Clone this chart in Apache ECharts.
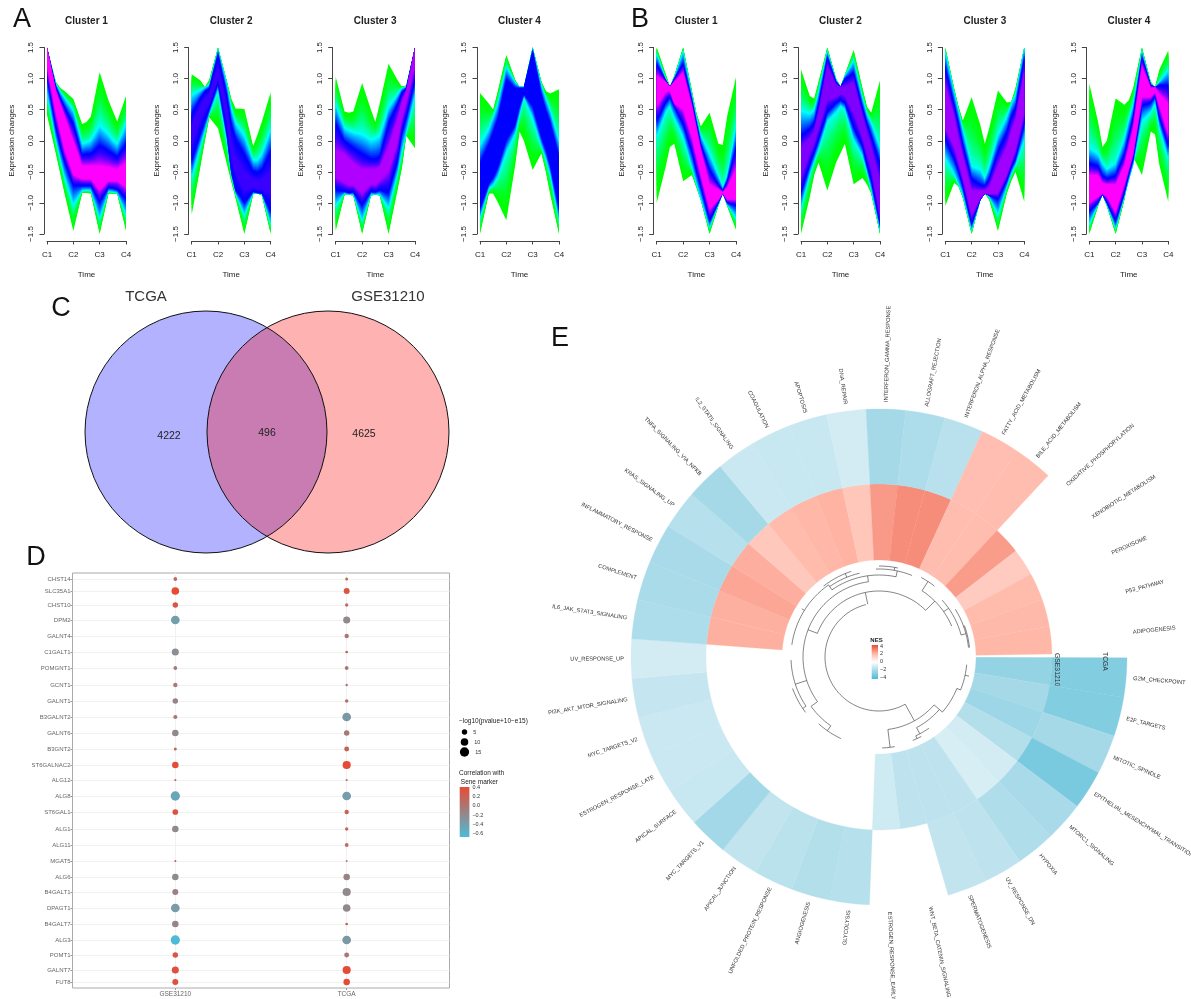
<!DOCTYPE html>
<html><head><meta charset="utf-8">
<style>html,body{margin:0;padding:0;background:#fff}#c{width:1191px;height:999px}</style>
<script src="https://cdn.jsdelivr.net/npm/echarts@6/dist/echarts.min.js"></script>
</head><body><div id="c"></div>
<script>
// ---------- Panels A / B : expression-change envelopes (rows: top green, top cyan, top blue, top core, low core, low blue, low cyan, low green)
const bandTimes = [0,1/3,2/3,1,4/3,5/3,2,7/3,8/3,3];
const bandMidTimes = [.5,1.5,2.5];
const timeLabels = ['C1','C2','C3','C4'];
const clusterNames = ['Cluster 1','Cluster 2','Cluster 3','Cluster 4'];
const bandA1 = [
 [1.5,.95,.8,.67,.27,.39,1.1,.65,.31,.72],
 [1.5,.92,.7,.5,-.04,.02,.26,.12,-.04,.28],
 [1.5,.88,.55,.28,-.22,-.2,-.06,-.15,-.25,-.04],
 [1.5,.8,.4,0,-.4,-.4,-.4,-.42,-.45,-.35],
 [1.2,.45,-.15,-.55,-.62,-.62,-.8,-.65,-.65,-.75],
 [1,.2,-.35,-.73,-.73,-.73,-1,-.76,-.79,-.95],
 [.75,0,-.6,-1.05,-.81,-.81,-1.27,-.82,-.84,-1.2],
 [.42,-.2,-.85,-1.45,-.84,-.85,-1.5,-.85,-.85,-1.45]];
const midA1 = [[.85,.3,.48],[.8,-.02,.02],[.7,-.2,-.2],[.6,-.4,-.44],[.15,-.62,-.65],[-.1,-.73,-.77],[-.3,-.8,-.83],[-.52,-.84,-.85]];
const bandA2 = [
 [1.07,.97,.98,1.5,.96,.52,.51,-.09,.31,.78],
 [.75,.82,.9,1.48,.93,.3,.1,-.3,-.2,.2],
 [.45,.7,.85,1.4,.75,.05,-.2,-.48,-.45,-.15],
 [.25,.55,.75,1.2,.55,-.25,-.5,-.62,-.62,-.5],
 [-.05,.35,.6,1,.35,-.5,-.8,-.75,-.78,-.85],
 [-.35,.1,.5,.92,.1,-.8,-1,-.82,-.85,-1.15],
 [-.6,-.1,.42,.8,0,-.85,-1.2,-.85,-.86,-1.35],
 [-1.19,-.41,.38,.2,-.37,-.92,-1.5,-.86,-.88,-1.5]];
const midA2 = [[.86,.68,.1],[.86,.55,-.3],[.8,.3,-.5],[.68,0,-.63],[.5,-.25,-.78],[.3,-.5,-.84],[.15,-.55,-.85],[0,-.65,-.85]];
const bandA3 = [
 [1.03,.47,.47,.93,.5,.6,1.24,.98,.89,1.5],
 [.6,.22,.15,.12,.03,.1,.55,.75,.87,1.5],
 [.3,0,-.1,-.2,-.28,-.25,.3,.6,.85,1.5],
 [-.15,-.2,-.35,-.45,-.45,-.42,-.1,.35,.8,1.5],
 [-.6,-.68,-.72,-.85,-.7,-.65,-.5,-.05,.6,1.2],
 [-.8,-.82,-.83,-1.05,-.82,-.8,-.85,-.35,.35,.95],
 [-1.05,-.85,-.87,-1.3,-.87,-.87,-1.1,-.55,.1,.72],
 [-1.45,-.87,-.88,-1.5,-.88,-.88,-1.5,-.8,.08,-.12]];
const midA3 = [[.45,.3,.87],[.18,.05,.85],[-.05,-.28,.78],[-.28,-.45,.62],[-.72,-.72,.35],[-.84,-.83,.1],[-.87,-.87,-.2],[-.87,-.87,-.45]];
const bandA4 = [
 [.77,.6,.78,1.38,.98,.87,1.5,.95,.76,.83],
 [-.05,.2,.6,1.2,.95,.87,1.5,.9,.5,0],
 [-.35,-.05,.35,1,.85,.85,1.45,.75,.3,-.25],
 [-.6,-.25,.2,.8,.75,.85,1.3,.6,.1,-.5],
 [-.9,-.55,-.2,.3,.45,.8,.8,.25,-.25,-.9],
 [-1.1,-.7,-.45,0,.25,.75,.55,.05,-.4,-1.1],
 [-1.25,-.78,-.6,-.2,.1,.7,.35,-.1,-.55,-1.3],
 [-1.5,-.85,-.98,-1.28,-.4,0,-.47,-.2,-.86,-1.5]];
const midA4 = [[.5,.87,.8],[.4,.87,.7],[.15,.85,.5],[-.05,.82,.35],[-.4,.7,0],[-.6,.55,-.15],[-.72,.4,-.3],[-.85,.15,-.5]];
const bandB1 = [
 [1.5,1.08,1.05,1.5,.8,.23,.45,-.05,.4,1.02],
 [1.4,1,1.02,1.45,.75,.1,-.2,-.55,-.55,.25],
 [1.25,.98,1,1.25,.65,-.05,-.45,-.7,-.65,-.1],
 [1.05,.95,.95,1.1,.55,-.15,-.7,-.78,-.75,-.45],
 [.55,.78,.6,.5,.05,-.55,-1.1,-.95,-.95,-.95],
 [.3,.6,.55,.25,-.2,-.75,-1.3,-1,-1,-1.05],
 [.05,.45,.35,.05,-.45,-.95,-1.4,-1.03,-1.03,-1.25],
 [-1,-.43,-.05,-.65,-.55,-.95,-1.5,-1.05,-1.05,-1.43]];
const midB1 = [[.87,.45,-.07],[.87,.4,-.75],[.87,.3,-.8],[.87,.2,-.83],[.8,-.25,-.85],[.7,-.5,-.85],[.55,-.7,-.85],[-.1,-.75,-.85]];
const bandB2 = [
 [1.15,.72,.95,1.5,1,1.06,1.46,.85,.45,.97],
 [.5,.45,.8,1.45,.98,1.05,1.3,.7,.3,-.1],
 [.1,.2,.6,1.35,.95,1,1.1,.55,.1,-.35],
 [-.1,.05,.45,1.2,.9,.87,.95,.4,-.1,-.65],
 [-.6,-.2,.2,.65,.7,.72,.45,.05,-.45,-1.2],
 [-.85,-.4,0,.45,.6,.6,.2,-.1,-.65,-1.35],
 [-1.1,-.55,-.15,.3,.45,.5,0,-.25,-.8,-1.45],
 [-1.5,-.9,-.35,-.8,-.35,-.05,-.7,-.6,-.85,-1.5]];
const midB2 = [[.68,.87,.55],[.5,.87,.45],[.3,.87,.3],[.15,.87,.15],[-.05,.75,-.2],[-.2,.65,-.4],[-.35,.55,-.5],[-.55,-.2,-.7]];
const bandB3 = [
 [1.5,.85,.32,.7,.25,.2,.81,.62,.85,1.5],
 [1.45,.8,.2,-.4,-.45,-.4,.1,.4,.75,1.5],
 [1.2,.6,-.05,-.6,-.7,-.6,-.15,.15,.55,1.35],
 [.9,.4,-.25,-.8,-.8,-.75,-.4,-.1,.35,1.1],
 [.2,-.1,-.6,-1.2,-.92,-.86,-.85,-.55,-.15,.45],
 [0,-.3,-.75,-1.35,-.95,-.88,-.95,-.65,-.3,.25],
 [-.3,-.55,-.88,-1.45,-.95,-.9,-1.2,-.75,-.4,0],
 [-1.05,-.68,-.92,-1.5,-.95,-.95,-1.45,-.85,-.5,-.98]];
const midB3 = [[.55,-.05,.62],[.5,-.6,.6],[.3,-.72,.4],[.05,-.8,.15],[-.35,-.85,-.35],[-.5,-.85,-.45],[-.72,-.85,-.55],[-.73,-.85,-.65]];
const bandB4 = [
 [.92,.3,0,.68,.58,.85,1.5,.95,1.15,1.45],
 [-.1,-.2,-.45,-.35,.05,.6,1.45,.92,.95,1.15],
 [-.35,-.4,-.6,-.55,-.2,.4,1.35,.9,.9,.9],
 [-.55,-.55,-.7,-.7,-.4,.2,1.2,.85,.75,.6],
 [-1,-.9,-.9,-1.15,-.7,-.2,.7,.7,.55,.1],
 [-1.15,-1,-1,-1.3,-.85,-.3,.55,.6,.35,-.1],
 [-1.35,-1.03,-1.03,-1.42,-.9,-.4,.3,.45,.2,-.3],
 [-1.5,-1.05,-1.05,-1.5,-.95,-.26,-.55,.15,-.4,-.98]];
const midB4 = [[-.1,.65,.86],[-.35,.35,.86],[-.55,.1,.86],[-.68,-.1,.86],[-.85,-.45,.78],[-.87,-.55,.72],[-.87,-.65,.6],[-.87,-.55,.1]];
// ---------- Panel C
const vennSets = ['TCGA','GSE31210'];
const vennCounts = [4222,496,4625];
// ---------- Panel D
const geneNames = ['CHST14','SLC35A1','CHST10','DPM2','GALNT4','C1GALT1','POMGNT1','GCNT1','GALNT1','B3GALNT2','GALNT6','B3GNT2','ST6GALNAC2','ALG12','ALG8','ST6GAL1','ALG1','ALG11','MGAT5','ALG6','B4GALT1','DPAGT1','B4GALT7','ALG3','POMT1','GALNT7','FUT8'];
const geneRowDepth = [6,18,32,47,63,79,95,112,128,144,160,176,192,207,223,239,256,272,288,304,319,335,351,367,382,397,409];
const cohortNames = ['GSE31210','TCGA'];
const gsePval = [2.5,10.1,5.2,13.2,null,8.7,2.5,3.3,5.2,3,7.4,1.6,7.4,.8,14.9,5.6,7.4,null,.8,7.4,6.2,13.2,7.4,14.9,5.2,8.7,6.2];
const tcgaPval = [1.6,6.2,1.9,8.7,3.3,1.3,2.5,1,2.2,13.2,5.2,4.2,11.6,.8,13.2,3.3,1.9,2.5,.6,7.4,11.6,10.1,1.3,13.2,4.2,11.6,7.4];
const gseCor = [.1,.4,.28,-.35,null,-.2,0,-.02,-.1,0,-.15,.15,.4,.2,-.42,.33,-.15,null,.2,-.17,-.08,-.32,-.12,-.6,.3,.33,.33];
const tcgaCor = [.1,.3,.1,-.15,0,.2,0,.1,.05,-.3,-.02,.2,.4,.1,-.33,.2,.2,.1,.1,-.1,-.15,-.15,.15,-.3,0,.38,.4];
const sizeLegend = [5,10,15];
const corTicks = [.4,.2,0,-.2,-.4,-.6];
// ---------- Panel E
const setNames = ['G2M_CHECKPOINT','E2F_TARGETS','MITOTIC_SPINDLE','EPITHELIAL_MESENCHYMAL_TRANSITION','MTORC1_SIGNALING','HYPOXIA','UV_RESPONSE_DN','SPERMATOGENESIS','WNT_BETA_CATENIN_SIGNALING','ESTROGEN_RESPONSE_EARLY','GLYCOLYSIS','ANGIOGENESIS','UNFOLDED_PROTEIN_RESPONSE','APICAL_JUNCTION','MYC_TARGETS_V1','APICAL_SURFACE','ESTROGEN_RESPONSE_LATE','MYC_TARGETS_V2','PI3K_AKT_MTOR_SIGNALING','UV_RESPONSE_UP','IL6_JAK_STAT3_SIGNALING','COMPLEMENT','INFLAMMATORY_RESPONSE','KRAS_SIGNALING_UP','TNFA_SIGNALING_VIA_NFKB','IL2_STAT5_SIGNALING','COAGULATION','APOPTOSIS','DNA_REPAIR','INTERFERON_GAMMA_RESPONSE','ALLOGRAFT_REJECTION','INTERFERON_ALPHA_RESPONSE','FATTY_ACID_METABOLISM','BILE_ACID_METABOLISM','OXIDATIVE_PHOSPHORYLATION','XENOBIOTIC_METABOLISM','PEROXISOME','P53_PATHWAY','ADIPOGENESIS'];
const tcgaNes = [-2.8,-2.8,-2,-3,-1.95,-1.8,-1.45,-1.4,null,null,-1.65,-1.7,-1.55,-1.4,-2.1,-1.25,-1.2,-1.2,-1.3,-1,-1.85,-1.9,-1.95,-1.65,-2,-1.2,-1.25,-1.25,-1,-2,-1.85,-1.6,1.7,1.75,null,null,null,null,null];
const gseNes = [-2.4,-2,-2.2,-1.7,-1,-.9,-1.45,-1.45,-1.45,-1.1,null,null,null,null,null,null,null,null,null,null,2.05,2.05,2.25,2.1,1.45,1.8,1.9,2,1.5,2.5,2.75,2.75,1.75,1.75,2.45,1.4,1.8,1.85,1.9];
const nesTicks = [4,2,0,-2,-4];
const dendroArcs = [[54,61,256],[73,41,83],[91,80,88],[80,41,62],[84,22,41],[88,5,22],[87,55,65],[90,62,68],[66,201,315],[79,303,337],[90,298,308],[85,318,345],[90,328,354],[91,340,354],[76,144,262],[88,146,178],[92,143,160],[84,125,144],[90,115,132],[82,235,282],[88,268,292],[91,270,282],[88,188,235],[86,235,257],[90,232,252]];
const dendroRadials = [[61,54,73],[83,73,91],[41,73,84],[62,80,87],[65,87,90],[22,84,88],[12,88,92],[258,54,66],[315,66,79],[303,79,90],[325,79,85],[345,85,90],[340,90,91],[201,66,76],[144,76,84],[162,76,88],[146,88,92],[125,84,90],[262,76,82],[282,82,88],[280,88,91],[235,82,88],[248,86,90],[212,88,91]];

// ---------- helpers
const FONT = '"Liberation Sans", Arial, sans-serif';
const hex = c => [1,3,5].map(i=>parseInt(c.substr(i,2),16));
const mix = (a,b,t) => { const A=hex(a),B=hex(b); return 'rgb('+A.map((v,i)=>Math.round(v+(B[i]-v)*t)).join(',')+')'; };
const corColor = v => mix('#4DBBD5','#E64B35',Math.min(1,Math.max(0,(v+.6)/1)));
const pointSize = p => 2.4*Math.sqrt(p);
function nesColor(v){
  const a=Math.abs(v)/2;
  if(v>=0) return a<=1? mix('#ffffff','#ffb3a3',a): mix('#ffb3a3','#e64b35',Math.min(1,a-1));
  return a<=1? mix('#ffffff','#a6d9e8',a): mix('#a6d9e8','#4dbbd5',Math.min(1,a-1));
}
const grids=[],xAxes=[],yAxes=[],series=[];
function addGrid(g,x,y){ grids.push(g); xAxes.push(Object.assign({gridIndex:grids.length-1},x)); yAxes.push(Object.assign({gridIndex:grids.length-1},y)); return grids.length-1; }
const hiddenAxis = (min,max,extra) => Object.assign({type:'value',min,max,show:false},extra||{});

// ---------- bands
const bandColor = (s,core) => {
  if(s<=1){ const t=Math.pow(s,1.8); return 'rgb(0,255,'+Math.round(255*t)+')'; }
  if(s<=2){ const t=s-1; return 'rgb(0,'+Math.round(255*(1-t))+',255)'; }
  return mix('#0000ff',core,Math.pow(s-2,1.5));
};
const bandLevels = []; for(let i=0;i<=36;i++) bandLevels.push([i/12]);
const allTimes = bandTimes.concat(bandMidTimes).slice().sort((a,b)=>a-b);
const timeOrder = bandTimes.concat(bandMidTimes).map((t,i)=>[t,i]).sort((a,b)=>a[0]-b[0]).map(d=>d[1]);
const mergeBand = (rows,mids) => rows.map((r,i)=>{ const all=r.concat(mids[i]); return timeOrder.map(k=>all[k]); });
function bandCurve(rows,s,low){
  const k=Math.min(2,Math.floor(s)),t=s-k;
  const a=low?rows[7-k]:rows[k],b=low?rows[6-k]:rows[k+1];
  return a.map((v,i)=>v+(b[i]-v)*t);
}
const linePanels = [
 {rows:mergeBand(bandA1,midA1),left:47,width:79,core:'#ff00ff'},{rows:mergeBand(bandA2,midA2),left:191.7,width:79,core:'#3a00ff'},
 {rows:mergeBand(bandA3,midA3),left:335.7,width:79.3,core:'#b000ff'},{rows:mergeBand(bandA4,midA4),left:480,width:79,core:'#0000ff'},
 {rows:mergeBand(bandB1,midB1),left:656.7,width:79.3,core:'#ff00ff'},{rows:mergeBand(bandB2,midB2),left:801,width:79,core:'#8000ff'},
 {rows:mergeBand(bandB3,midB3),left:945.3,width:79,core:'#a000ff'},{rows:mergeBand(bandB4,midB4),left:1089.3,width:79,core:'#ff00ff'}];
linePanels.forEach((p,pi)=>{
  const gi=addGrid({left:p.left,top:47.5,width:p.width,height:186.5},
   {type:'value',min:0,max:3,interval:1,offset:7,position:'bottom',splitLine:{show:false},
    axisLine:{onZero:false,lineStyle:{color:'#444',width:1}},axisTick:{length:3.5,lineStyle:{color:'#444'}},
    axisLabel:{formatter:v=>timeLabels[v],fontFamily:FONT,fontSize:8,color:'#222',margin:10,hideOverlap:false},
    name:'Time',nameLocation:'middle',nameGap:30,nameTextStyle:{fontFamily:FONT,fontSize:8,color:'#222'}},
   {type:'value',min:-1.5,max:1.5,interval:.5,offset:3,splitLine:{show:false},
    axisLine:{onZero:false,lineStyle:{color:'#444',width:1}},axisTick:{length:4.5,lineStyle:{color:'#444'}},
    axisLabel:{rotate:90,formatter:v=>v.toFixed(1).replace('-','\u2212'),fontFamily:FONT,fontSize:8,color:'#222',margin:9,hideOverlap:false},
    name:'Expression changes',nameLocation:'middle',nameGap:28,nameTextStyle:{fontFamily:FONT,fontSize:8,color:'#222'}});
  series.push({type:'custom',xAxisIndex:gi,yAxisIndex:gi,silent:true,animation:false,clip:false,data:bandLevels,
    renderItem:(params,api)=>{
      const s=api.value(0);
      const up=bandCurve(p.rows,s,false),lo=bandCurve(p.rows,s,true);
      const pts=allTimes.map((t,i)=>api.coord([t,up[i]])).concat(allTimes.map((t,i)=>api.coord([t,lo[i]])).reverse());
      return {type:'polygon',shape:{points:pts},style:{fill:bandColor(s,p.core)}};
    }});
});

// ---------- overlay grid (page-unit scale) for Venn and annotations
const ov=addGrid({left:0,top:0,width:1191,height:999},hiddenAxis(0,1191),hiddenAxis(0,999,{inverse:true}));
const vennCircles=[[206,432,121,'rgba(0,0,255,0.3)'],[328,432,121,'rgba(255,0,0,0.3)']];
series.push({type:'custom',xAxisIndex:ov,yAxisIndex:ov,silent:true,animation:false,clip:false,data:vennCircles.map((c,i)=>[i]),
  renderItem:(params,api)=>{
    const c=vennCircles[api.value(0)],o=api.coord([c[0],c[1]]);
    return {type:'circle',shape:{cx:o[0],cy:o[1],r:c[2]},style:{fill:c[3]}};
  }});
series.push({type:'custom',xAxisIndex:ov,yAxisIndex:ov,silent:true,animation:false,clip:false,data:vennCircles.map((c,i)=>[i]),
  renderItem:(params,api)=>{
    const c=vennCircles[api.value(0)],o=api.coord([c[0],c[1]]);
    return {type:'circle',shape:{cx:o[0],cy:o[1],r:c[2]},style:{fill:'none',stroke:'#111',lineWidth:1}};
  }});
const notes=[
 ['A',22,20,27],['B',640,20,27],['C',61,309,27],['D',36,558,27],['E',560,339,27],
 [vennSets[0],146,297,15,'#333'],[vennSets[1],388,297,15,'#333'],
 [String(vennCounts[0]),169,436,10.5,'#222'],[String(vennCounts[1]),267,433,10.5,'#222'],[String(vennCounts[2]),364,434,10.5,'#222'],
 ['\u2212log10(pvalue+10\u2212e15)',459,721,6.5,'#222','left'],['Correlation with',459,773,6.5,'#222','left'],[' Sene marker',459,782,6.5,'#222','left'],
 ['NES',876.5,640,6,'#222','center','bold'],
 ['GSE31210',1057,653,6.8,'#333','left','normal',-Math.PI/2],['TCGA',1105,652,6.8,'#333','left','normal',-Math.PI/2]];
[47,191.7,335.7,480,656.7,801,945.3,1089.3].forEach((l,i)=>notes.push([clusterNames[i%4],l+39.5,21,10,'#222','center','bold']));
series.push({type:'custom',xAxisIndex:ov,yAxisIndex:ov,silent:true,animation:false,clip:false,z:20,data:notes.map((n,i)=>[i]),
  renderItem:(params,api)=>{
    const n=notes[api.value(0)],o=api.coord([n[1],n[2]]);
    return {type:'text',x:o[0],y:o[1],rotation:n[7]||0,style:{text:n[0],x:0,y:0,fontFamily:FONT,fontSize:n[3],fill:n[4]||'#111',align:n[5]||'center',verticalAlign:'middle',fontWeight:n[6]||'normal'}};
  }});

// ---------- Panel D
const dg=addGrid({left:72.5,top:573,width:377,height:415,show:true,borderColor:'#aaa',borderWidth:1,backgroundColor:'#fff'},
 {type:'value',min:-.6,max:1.6,position:'bottom',
  splitLine:{show:true,lineStyle:{color:'#f1f1f1',width:1}},axisLine:{show:false,onZero:false},
  axisTick:{customValues:[0,1],length:2,lineStyle:{color:'#999'}},
  axisLabel:{customValues:[0,1],formatter:v=>cohortNames[v],fontFamily:FONT,fontSize:6.5,color:'#666',margin:3}},
 {type:'value',min:0,max:415,inverse:true,position:'left',
  splitLine:{show:true,lineStyle:{color:'#f1f1f1',width:1}},axisLine:{show:false,onZero:false},
  axisTick:{customValues:geneRowDepth,length:2,lineStyle:{color:'#999'}},
  axisLabel:{customValues:geneRowDepth,formatter:v=>geneNames[geneRowDepth.indexOf(v)],fontFamily:FONT,fontSize:6,color:'#666',margin:2}});
[[gsePval,gseCor,0],[tcgaPval,tcgaCor,1]].forEach(([pv,co,x])=>{
  series.push({type:'scatter',xAxisIndex:dg,yAxisIndex:dg,silent:true,animation:false,z:5,
    data:geneNames.map((g,i)=>pv[i]==null?null:[x,geneRowDepth[i],pv[i],co[i]]).filter(Boolean),
    symbolSize:v=>pointSize(v[2]),itemStyle:{color:p=>corColor(p.value[3]),opacity:1}});
});
// size legend
const sg=addGrid({left:459,top:722,width:11,height:40},hiddenAxis(0,1),hiddenAxis(0,20,{inverse:true}));
series.push({type:'scatter',xAxisIndex:sg,yAxisIndex:sg,silent:true,animation:false,data:sizeLegend.map(v=>[.5,v]),
  symbolSize:v=>pointSize(v[1]),itemStyle:{color:'#000',opacity:1},
  label:{show:true,position:'right',distance:6,formatter:p=>p.value[1],fontFamily:FONT,fontSize:5.5,color:'#333'}});
// correlation colourbar
const cg=addGrid({left:459.7,top:787,width:9.7,height:50},hiddenAxis(0,1),
 {type:'value',min:-.67,max:.4,position:'right',splitLine:{show:false},axisLine:{show:false},axisTick:{show:false},
  axisLabel:{customValues:corTicks,formatter:v=>v.toFixed(1).replace('-','\u2212'),fontFamily:FONT,fontSize:5.5,color:'#333',margin:3}});
series.push({type:'custom',xAxisIndex:cg,yAxisIndex:cg,silent:true,animation:false,data:[[0,1,-.67,.4]],
  renderItem:(params,api)=>{
    const a=api.coord([api.value(0),api.value(3)]),b=api.coord([api.value(1),api.value(2)]);
    return {type:'rect',shape:{x:a[0],y:a[1],width:b[0]-a[0],height:b[1]-a[1]},
      style:{fill:new echarts.graphic.LinearGradient(0,0,0,1,[{offset:0,color:'#E64B35'},{offset:1,color:'#4DBBD5'}])}};
  }});
// NES colourbar
const ng=addGrid({left:871.7,top:645,width:6.3,height:34},hiddenAxis(0,1),
 {type:'value',min:-4.3,max:4.25,position:'right',splitLine:{show:false},axisLine:{show:false},axisTick:{show:false},
  axisLabel:{customValues:nesTicks,formatter:v=>String(v).replace('-','\u2212'),fontFamily:FONT,fontSize:5.5,color:'#333',margin:2}});
series.push({type:'custom',xAxisIndex:ng,yAxisIndex:ng,silent:true,animation:false,z:6,data:[[0,1,-4.3,4.25]],
  renderItem:(params,api)=>{
    const a=api.coord([api.value(0),api.value(3)]),b=api.coord([api.value(1),api.value(2)]);
    return {type:'rect',shape:{x:a[0],y:a[1],width:b[0]-a[0],height:b[1]-a[1]},
      style:{fill:new echarts.graphic.LinearGradient(0,0,0,1,[{offset:0,color:'#e64b35'},{offset:.25,color:'#ffb3a3'},{offset:.5,color:'#ffffff'},{offset:.75,color:'#a6d9e8'},{offset:1,color:'#4dbbd5'}])}};
  }});

// ---------- Panel E (polar, radius scale in page units)
const polar={center:[879,657],radius:260};
const radiusAxis={type:'value',min:0,max:260,show:false};
const angleAxis={type:'value',min:0,max:360,startAngle:0,clockwise:true,show:false};
const ringEdges=[[97,173],[173,248]];
const sectorStep=9.2,sectorStart=.2;
const heatCells=[];
setNames.forEach((n,i)=>{ if(gseNes[i]!=null) heatCells.push([0,i,gseNes[i]]); if(tcgaNes[i]!=null) heatCells.push([1,i,tcgaNes[i]]); });
series.push({type:'custom',coordinateSystem:'polar',silent:true,animation:false,clip:false,data:heatCells,
  renderItem:(params,api)=>{
    const ring=ringEdges[api.value(0)],a0=sectorStart+api.value(1)*sectorStep,pts=[];
    for(let k=0;k<=6;k++) pts.push(api.coord([ring[1],a0+k*sectorStep/6]));
    for(let k=6;k>=0;k--) pts.push(api.coord([ring[0],a0+k*sectorStep/6]));
    const col=nesColor(api.value(2));
    return {type:'polygon',shape:{points:pts},style:{fill:col,stroke:col,lineWidth:.3}};
  }});
series.push({type:'custom',coordinateSystem:'polar',silent:true,animation:false,clip:false,data:setNames.map((n,i)=>[i]),
  renderItem:(params,api)=>{
    const i=api.value(0),a=sectorStart+(i+.5)*sectorStep,o=api.coord([255,a]);
    const rad=a*Math.PI/180,right=Math.cos(rad)>=0;
    return {type:'text',x:o[0],y:o[1],rotation:right?-rad:Math.PI-rad,
      style:{text:setNames[i],x:0,y:0,align:right?'left':'right',verticalAlign:'middle',fontFamily:FONT,fontSize:5.7,fill:'#333'}};
  }});
const dendro=dendroArcs.map(a=>['a',a[0],a[1],a[2]]).concat(dendroRadials.map(r=>['r',r[0],r[1],r[2]]));
series.push({type:'custom',coordinateSystem:'polar',silent:true,animation:false,clip:false,data:dendro.map((d,i)=>[i]),
  renderItem:(params,api)=>{
    const d=dendro[api.value(0)],pts=[];
    if(d[0]==='a'){ const n=Math.max(2,Math.ceil((d[3]-d[2])/3)); for(let k=0;k<=n;k++) pts.push(api.coord([d[1],d[2]+(d[3]-d[2])*k/n])); }
    else { pts.push(api.coord([d[2],d[1]]),api.coord([d[3],d[1]])); }
    return {type:'polyline',shape:{points:pts},style:{fill:'none',stroke:'#333',lineWidth:.6}};
  }});

const chart=echarts.init(document.getElementById('c'),null,{renderer:'canvas',width:1191,height:999});
chart.setOption({animation:false,backgroundColor:'#fff',textStyle:{fontFamily:FONT},grid:grids,xAxis:xAxes,yAxis:yAxes,polar,radiusAxis,angleAxis,series});
</script></body></html>
